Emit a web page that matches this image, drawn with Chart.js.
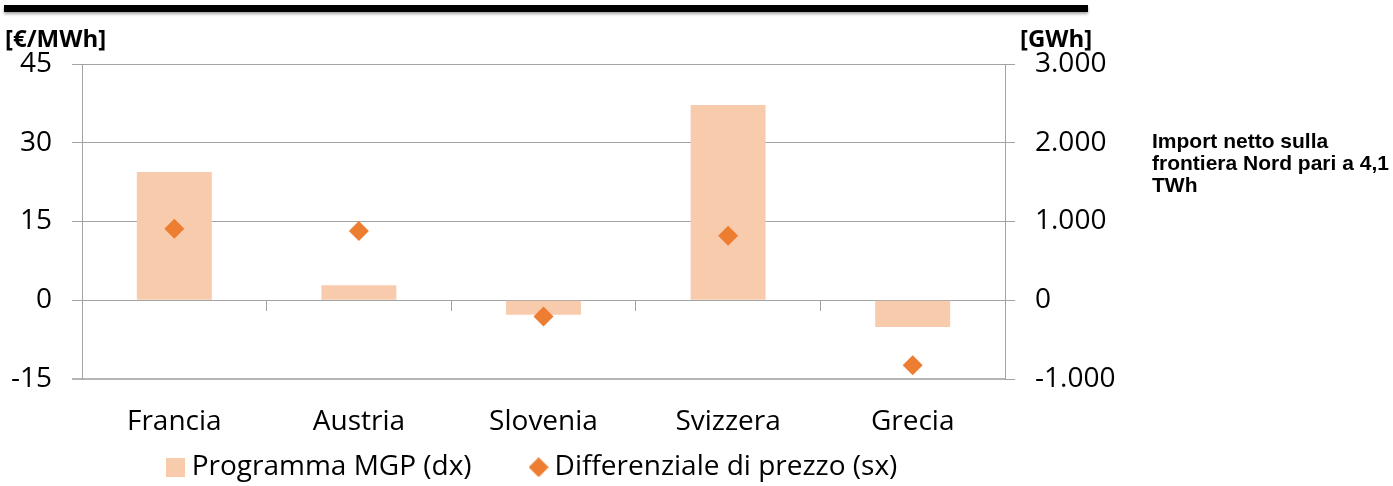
<!DOCTYPE html>
<html>
<head>
<meta charset="utf-8">
<script src="https://cdn.jsdelivr.net/npm/chart.js@4/dist/chart.umd.min.js"></script>
<style>
  html, body { margin: 0; padding: 0; background: #fff; }
  #wrap { width: 1393px; height: 486px; position: relative; }
</style>
</head>
<body>
<div id="wrap"><canvas id="c" width="1393" height="486"></canvas></div>
<script>
// ---- data ----
const categories = ['Francia', 'Austria', 'Slovenia', 'Svizzera', 'Grecia'];
const programmaMGP = [1630, 190, -185, 2480, -340];          // GWh (right axis)
const differenziale = [13.6, 13.2, -3.1, 12.3, -12.4];       // €/MWh (left axis)
const seriesNames = ['Programma MGP (dx)', 'Differenziale di prezzo (sx)'];
const leftTickValues = [-15, 0, 15, 30, 45];
const leftTickLabels = ['-15', '0', '15', '30', '45'];
const rightTickValues = [-1000, 0, 1000, 2000, 3000];
const rightTickLabels = ['-1.000', '0', '1.000', '2.000', '3.000'];
const leftUnit = '[€/MWh]';
const rightUnit = '[GWh]';
const noteLines = ['Import netto sulla', 'frontiera Nord pari a 4,1', 'TWh'];

const BAR_COLOR = '#F8CBAD';
const PT_COLOR = '#ED7D31';
const GRID = '#A3A3A3';

// legend icons
function makeIcon(kind) {
  const cv = document.createElement('canvas');
  if (kind === 'square') {
    cv.width = 19; cv.height = 19;
    const g = cv.getContext('2d');
    g.fillStyle = BAR_COLOR; g.fillRect(0, 0, 19, 19);
  } else {
    cv.width = 20; cv.height = 20;
    const g = cv.getContext('2d');
    g.fillStyle = PT_COLOR;
    g.beginPath(); g.moveTo(10, 0); g.lineTo(20, 10); g.lineTo(10, 20); g.lineTo(0, 10); g.closePath(); g.fill();
  }
  return cv;
}
const icons = [makeIcon('square'), makeIcon('diamond')];

Chart.defaults.font.family = "'Open Sans', sans-serif";
Chart.defaults.color = '#000';

const LEG_PAD = 65;
const LEG_H = 40;

const decor = {
  id: 'decor',
  afterLayout(chart) {
    const lg = chart.legend;
    if (!lg) return;
    const ih = lg._itemHeight || 33.6;
    lg.left = 0;
    lg.right = 1071;
    lg.top = 470 - LEG_PAD - ih / 2;
    lg.bottom = chart.height;
  },
  beforeDraw(chart) {
    const ctx = chart.ctx;
    ctx.save();
    ctx.shadowColor = 'rgba(0,0,0,0.35)';
    ctx.shadowBlur = 3;
    ctx.shadowOffsetY = 2;
    ctx.fillStyle = '#000';
    ctx.fillRect(4, 5, 1084, 7);
    ctx.restore();
  },
  afterDraw(chart) {
    const ctx = chart.ctx;
    ctx.save();
    ctx.fillStyle = '#000';
    ctx.textBaseline = 'middle';
    ctx.textAlign = 'left';
    ctx.font = "bold 24px 'Open Sans'";
    ctx.fillText(leftUnit, 5, 40);
    ctx.fillText(rightUnit, 1020, 40);
    ctx.font = "bold 21px 'Liberation Sans'";
    noteLines.forEach((t, i) => ctx.fillText(t, 1152, 142 + i * 22));
    ctx.restore();
  }
};

const chart = new Chart(document.getElementById('c'), {
  data: {
    labels: categories,
    datasets: [
      {
        type: 'bar',
        label: seriesNames[0],
        data: programmaMGP,
        yAxisID: 'y1',
        xAxisID: 'x',
        backgroundColor: BAR_COLOR,
        barPercentage: 0.406,
        categoryPercentage: 1,
        order: 2
      },
      {
        type: 'line',
        label: seriesNames[1],
        data: differenziale,
        yAxisID: 'y',
        xAxisID: 'x',
        showLine: false,
        pointStyle: 'rectRot',
        pointRadius: 10,
        pointHoverRadius: 10,
        pointBorderWidth: 0,
        borderColor: PT_COLOR,
        backgroundColor: PT_COLOR,
        order: 1
      }
    ]
  },
  options: {
    responsive: false,
    animation: false,
    events: [],
    layout: { padding: { top: 64, left: 0, right: 268, bottom: 0 } },
    plugins: {
      tooltip: { enabled: false },
      legend: {
        position: 'bottom',
        labels: {
          usePointStyle: true,
          boxWidth: 4,
          boxHeight: 20,
          padding: LEG_PAD,
          font: { size: 28 },
          color: '#000',
          sort: (a, b) => a.datasetIndex - b.datasetIndex,
          generateLabels(chart) {
            const items = Chart.defaults.plugins.legend.labels.generateLabels(chart);
            items.forEach(it => { it.pointStyle = icons[it.datasetIndex]; });
            return items;
          }
        }
      }
    },
    scales: {
      x: {
        type: 'category',
        position: 'bottom',
        offset: true,
        grid: { display: false, drawTicks: false },
        border: { display: false },
        ticks: { padding: 26, font: { size: 28 }, color: '#000', maxRotation: 0 },
        afterFit(s) { s.height = 107 - LEG_H; }
      },
      x2: {
        type: 'category',
        position: { y: 0 },
        offset: true,
        grid: { offset: true, drawOnChartArea: false, drawTicks: true, tickLength: 10, color: GRID },
        border: { display: true, color: GRID, width: 1 },
        ticks: { display: false }
      },
      y: {
        position: 'left',
        min: -15, max: 45,
        afterBuildTicks(s) { s.ticks = leftTickValues.map(v => ({ value: v })); },
        ticks: {
          padding: 20, font: { size: 28 }, color: '#000',
          callback: (v) => leftTickLabels[leftTickValues.indexOf(v)]
        },
        grid: {
          color: (c) => (c.tick && c.tick.value === -15 ? '#B5B5B5' : GRID),
          lineWidth: (c) => (c.tick && c.tick.value === -15 ? 2 : 1),
          tickLength: 10
        },
        border: { display: true, color: GRID, width: 1 },
        afterFit(s) { s.width = 82; }
      },
      y1: {
        position: 'right',
        min: -1000, max: 3000,
        afterBuildTicks(s) { s.ticks = rightTickValues.map(v => ({ value: v })); },
        ticks: {
          padding: 20, font: { size: 28 }, color: '#000',
          callback: (v) => rightTickLabels[rightTickValues.indexOf(v)]
        },
        grid: { drawOnChartArea: false, drawTicks: true, tickLength: 10, color: GRID },
        border: { display: true, color: GRID, width: 1 },
        afterFit(s) { s.width = 120; }
      }
    }
  },
  plugins: [decor]
});

// keep the legend's layout footprint small; its items are placed in afterLayout
const lgd = chart.legend;
if (lgd) {
  const origFit = lgd.fit;
  lgd.fit = function () { origFit.call(this); this.height = LEG_H; };
  chart.update();
}
</script>
</body>
</html>
